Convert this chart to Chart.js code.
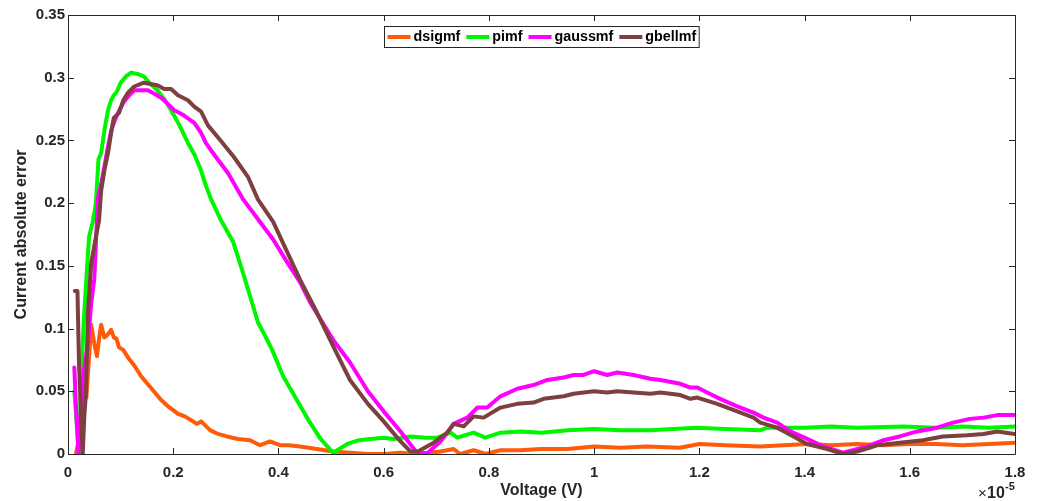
<!DOCTYPE html>
<html>
<head>
<meta charset="utf-8">
<script src="https://cdn.jsdelivr.net/npm/chart.js@4/dist/chart.umd.min.js"></script>
<style>
  html, body { margin: 0; padding: 0; background: #fff; }
  #wrap { width: 1037px; height: 501px; }
</style>
</head>
<body>
<div id="wrap"><canvas id="c" width="1037" height="501"></canvas></div>
<script>
// Voltage in units of 1e-5 V, absolute current error per membership function
const dsigmfV = [0.015,0.025,0.03,0.035,0.04,0.044,0.05,0.055,0.06,0.063,0.069,0.075,0.082,0.087,0.092,0.097,0.105,0.114,0.127,0.139,0.151,0.163,0.177,0.19,0.2,0.209,0.222,0.234,0.245,0.253,0.27,0.285,0.302,0.323,0.346,0.365,0.384,0.403,0.42,0.441,0.473,0.504,0.537,0.57,0.6,0.632,0.66,0.69,0.708,0.733,0.745,0.771,0.794,0.822,0.86,0.898,0.95,1.0,1.05,1.1,1.163,1.2,1.25,1.316,1.36,1.405,1.45,1.5,1.55,1.6,1.65,1.7,1.75,1.8];
const dsigmfErr = [0,0.02,0.054,0.045,0.077,0.103,0.088,0.078,0.095,0.103,0.093,0.095,0.099,0.093,0.092,0.085,0.083,0.077,0.07,0.062,0.056,0.05,0.043,0.038,0.035,0.032,0.03,0.027,0.024,0.026,0.019,0.016,0.014,0.012,0.011,0.007,0.01,0.007,0.007,0.006,0.004,0.002,0.001,0,0,0.001,0,0.001,0.002,0.004,0,0.003,0,0.003,0.003,0.004,0.004,0.006,0.005,0.006,0.005,0.008,0.007,0.006,0.007,0.008,0.007,0.008,0.007,0.008,0.008,0.007,0.008,0.009];

const pimfV = [0.012,0.021,0.025,0.03,0.035,0.04,0.047,0.053,0.058,0.063,0.07,0.076,0.082,0.087,0.093,0.1,0.11,0.12,0.132,0.144,0.157,0.17,0.183,0.196,0.212,0.228,0.24,0.253,0.262,0.272,0.29,0.314,0.33,0.346,0.361,0.375,0.388,0.409,0.435,0.46,0.48,0.504,0.531,0.553,0.575,0.6,0.619,0.651,0.68,0.702,0.727,0.74,0.771,0.793,0.822,0.86,0.9,0.95,1.0,1.05,1.107,1.15,1.196,1.25,1.316,1.33,1.4,1.45,1.5,1.587,1.65,1.7,1.75,1.8];
const pimfErr = [0.05,0,0.06,0.106,0.14,0.173,0.185,0.2,0.235,0.24,0.26,0.274,0.282,0.286,0.289,0.296,0.301,0.304,0.303,0.301,0.295,0.29,0.283,0.274,0.262,0.248,0.239,0.226,0.214,0.203,0.187,0.169,0.148,0.126,0.105,0.094,0.083,0.062,0.043,0.025,0.012,0.001,0.008,0.011,0.012,0.013,0.012,0.014,0.013,0.013,0.017,0.013,0.017,0.013,0.017,0.018,0.017,0.019,0.02,0.019,0.019,0.02,0.021,0.02,0.019,0.021,0.021,0.022,0.021,0.022,0.021,0.022,0.021,0.022];

const gaussmfV = [0.012,0.016,0.02,0.028,0.033,0.038,0.044,0.05,0.057,0.063,0.069,0.076,0.082,0.089,0.095,0.105,0.114,0.126,0.14,0.152,0.165,0.177,0.19,0.202,0.22,0.24,0.253,0.262,0.272,0.288,0.304,0.333,0.365,0.39,0.415,0.441,0.46,0.504,0.536,0.57,0.6,0.632,0.665,0.684,0.708,0.733,0.759,0.778,0.797,0.822,0.854,0.885,0.911,0.942,0.961,0.98,1.0,1.025,1.044,1.075,1.107,1.126,1.164,1.183,1.196,1.234,1.272,1.303,1.322,1.348,1.373,1.405,1.436,1.473,1.519,1.55,1.581,1.614,1.652,1.682,1.714,1.74,1.766,1.8];
const gaussmfErr = [0.069,0.03,0,0.06,0.075,0.088,0.12,0.14,0.205,0.215,0.229,0.245,0.258,0.266,0.272,0.28,0.285,0.29,0.29,0.29,0.287,0.284,0.279,0.274,0.27,0.264,0.256,0.248,0.242,0.233,0.224,0.203,0.185,0.171,0.154,0.137,0.121,0.091,0.073,0.05,0.034,0.018,0,0.001,0.01,0.024,0.029,0.037,0.037,0.046,0.052,0.055,0.059,0.061,0.063,0.063,0.066,0.063,0.065,0.063,0.06,0.059,0.056,0.053,0.053,0.045,0.038,0.033,0.029,0.025,0.018,0.012,0.006,0.001,0.006,0.011,0.014,0.018,0.021,0.025,0.028,0.029,0.031,0.031];

const gbellmfV = [0.013,0.018,0.021,0.024,0.028,0.031,0.034,0.038,0.044,0.053,0.059,0.063,0.07,0.076,0.082,0.087,0.097,0.105,0.114,0.126,0.144,0.157,0.17,0.183,0.196,0.209,0.228,0.24,0.253,0.266,0.29,0.315,0.342,0.361,0.39,0.441,0.473,0.504,0.536,0.57,0.6,0.632,0.651,0.665,0.695,0.721,0.733,0.752,0.771,0.79,0.822,0.854,0.885,0.904,0.942,0.961,1.0,1.025,1.044,1.075,1.107,1.126,1.164,1.183,1.196,1.234,1.272,1.303,1.316,1.348,1.379,1.405,1.443,1.473,1.5,1.538,1.581,1.625,1.663,1.709,1.74,1.766,1.8];
const gbellmfErr = [0.13,0.13,0.07,0.04,0,0.03,0.048,0.114,0.152,0.173,0.186,0.21,0.228,0.24,0.256,0.268,0.272,0.282,0.288,0.293,0.296,0.295,0.294,0.291,0.291,0.286,0.282,0.277,0.273,0.262,0.25,0.237,0.221,0.203,0.185,0.139,0.113,0.086,0.059,0.04,0.026,0.01,0.002,0.002,0.009,0.017,0.024,0.022,0.03,0.029,0.037,0.04,0.041,0.044,0.046,0.048,0.05,0.049,0.05,0.049,0.048,0.049,0.047,0.044,0.045,0.04,0.034,0.029,0.025,0.021,0.014,0.008,0.004,0,0.002,0.007,0.009,0.011,0.014,0.015,0.016,0.018,0.016];

const xTicks = [0,0.2,0.4,0.6,0.8,1,1.2,1.4,1.6,1.8];
const yTicks = [0,0.05,0.1,0.15,0.2,0.25,0.3,0.35];
const seriesNames = ['dsigmf','pimf','gaussmf','gbellmf'];
const seriesColors = ['#ff5a0a','#00f500','#ff00ff','#7e3f3f'];

const INK = '#262626';
const FONT = '"Liberation Sans", Arial, Helvetica, sans-serif';
Chart.defaults.font.family = FONT;
Chart.defaults.color = INK;

function pts(xs, ys) { return xs.map((x, i) => ({ x: x, y: ys[i] })); }

const seriesData = [pts(dsigmfV, dsigmfErr), pts(pimfV, pimfErr), pts(gaussmfV, gaussmfErr), pts(gbellmfV, gbellmfErr)];

// Box around the axes with inward tick marks on all four sides
const framePlugin = {
  id: 'frame',
  afterDraw(chart) {
    const { ctx, chartArea: a, scales } = chart;
    ctx.save();
    ctx.strokeStyle = INK;
    ctx.lineWidth = 1;
    ctx.beginPath();
    ctx.rect(Math.round(a.left) + 0.5, Math.round(a.top) + 0.5, Math.round(a.right - a.left), Math.round(a.bottom - a.top));
    ctx.stroke();
    const L = 6;
    ctx.beginPath();
    xTicks.forEach(v => {
      const px = Math.round(scales.x.getPixelForValue(v)) + 0.5;
      ctx.moveTo(px, a.bottom); ctx.lineTo(px, a.bottom - L);
      ctx.moveTo(px, a.top); ctx.lineTo(px, a.top + L);
    });
    yTicks.forEach(v => {
      const py = Math.round(scales.y.getPixelForValue(v)) + 0.5;
      ctx.moveTo(a.left, py); ctx.lineTo(a.left + L, py);
      ctx.moveTo(a.right, py); ctx.lineTo(a.right - L, py);
    });
    ctx.stroke();

    // axis exponent
    ctx.fillStyle = INK;
    ctx.textBaseline = 'alphabetic';
    ctx.textAlign = 'left';
    const bx = a.right - 37, by = 498;
    ctx.font = '15px ' + FONT;
    ctx.fillText('\u00d7', bx, by);
    ctx.font = 'bold 16px ' + FONT;
    ctx.fillText('10', bx + 9, by);
    ctx.font = 'bold 11px ' + FONT;
    ctx.fillText('-5', bx + 27, by - 8);
    ctx.restore();
  }
};

// Legend box inside the top of the axes
const legendBoxPlugin = {
  id: 'legendBox',
  afterDraw(chart) {
    const { ctx, chartArea: a } = chart;
    ctx.save();
    ctx.font = 'bold 14.3px ' + FONT;
    const lineLen = 23, gapLT = 3, gapItem = 6, padL = 3, padR = 3;
    const widths = seriesNames.map(n => ctx.measureText(n).width);
    let total = padL + padR;
    widths.forEach((w, i) => { total += lineLen + gapLT + w + (i < widths.length - 1 ? gapItem : 0); });
    const cx = (a.left + a.right) / 2;
    const left = Math.round(cx - total / 2) + 0.5;
    const top = 26.5, h = 21;
    ctx.fillStyle = '#fff';
    ctx.fillRect(left, top, total, h);
    ctx.strokeStyle = INK;
    ctx.lineWidth = 1;
    ctx.strokeRect(left, top, total, h);
    let x = left + padL;
    const midY = top + h / 2;
    seriesNames.forEach((n, i) => {
      ctx.strokeStyle = seriesColors[i];
      ctx.lineWidth = 4;
      ctx.beginPath();
      ctx.moveTo(x, midY); ctx.lineTo(x + lineLen, midY);
      ctx.stroke();
      x += lineLen + gapLT;
      ctx.fillStyle = '#000';
      ctx.textBaseline = 'middle';
      ctx.textAlign = 'left';
      ctx.fillText(n, x, midY + 0.5);
      x += widths[i] + gapItem;
    });
    ctx.restore();
  }
};

const datasets = seriesNames.map((name, i) => ({
  label: name,
  data: seriesData[i],
  borderColor: seriesColors[i],
  backgroundColor: seriesColors[i],
  borderWidth: 4,
  pointRadius: 0,
  tension: 0,
  borderJoinStyle: 'round',
  borderCapStyle: 'round',
  order: seriesNames.length - 1 - i
}));

new Chart(document.getElementById('c'), {
  type: 'line',
  data: { datasets: datasets },
  options: {
    responsive: false,
    animation: false,
    devicePixelRatio: 1,
    layout: { padding: { top: 15, right: 22, left: 0, bottom: 0 } },
    plugins: { legend: { display: false }, tooltip: { enabled: false } },
    scales: {
      x: {
        type: 'linear',
        min: 0, max: 1.8,
        afterBuildTicks(scale) { scale.ticks = xTicks.map(v => ({ value: v })); },
        afterFit(scale) { scale.height = 47; },
        grid: { display: false, drawTicks: false, tickLength: 0 },
        border: { display: false },
        ticks: {
          padding: 10,
          maxRotation: 0,
          autoSkip: false,
          color: INK,
          font: { size: 15, weight: 'bold' },
          callback: v => String(Number(v.toFixed(2)))
        },
        title: {
          display: true,
          text: 'Voltage (V)',
          color: INK,
          font: { size: 16, weight: 'bold' },
          padding: { top: 0, bottom: 1 }
        }
      },
      y: {
        type: 'linear',
        min: 0, max: 0.35,
        afterBuildTicks(scale) { scale.ticks = yTicks.map(v => ({ value: v })); },
        afterFit(scale) { scale.width = 68; },
        grid: { display: false, drawTicks: false, tickLength: 0 },
        border: { display: false },
        ticks: {
          padding: 3,
          autoSkip: false,
          color: INK,
          font: { size: 15, weight: 'bold' },
          callback: v => String(Number(v.toFixed(2)))
        },
        title: {
          display: true,
          text: 'Current absolute error',
          color: INK,
          font: { size: 16, weight: 'bold' },
          padding: { top: 12, bottom: 0 }
        }
      }
    }
  },
  plugins: [framePlugin, legendBoxPlugin]
});
</script>
</body>
</html>
